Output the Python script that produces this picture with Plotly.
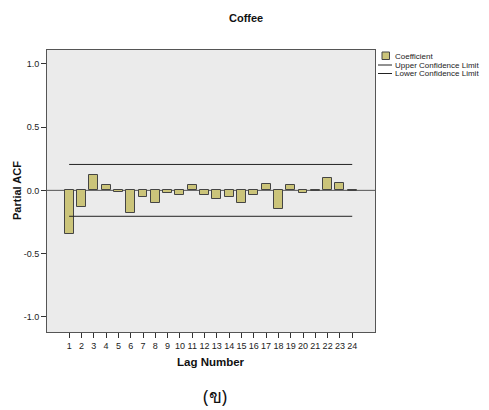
import plotly.graph_objects as go

lags = list(range(1, 25))
pacf = [-0.347, -0.129, 0.123, 0.039, -0.013, -0.180, -0.052, -0.100,
        -0.018, -0.037, 0.039, -0.040, -0.071, -0.055, -0.102, -0.040,
        0.052, -0.147, 0.042, -0.024, -0.005, 0.097, 0.055, -0.008]
upper = [0.205] * 24
lower = [-0.205] * 24
ytick_vals = [-1.0, -0.5, 0.0, 0.5, 1.0]
ytick_text = ["-1.0", "-0.5", "0.0", "0.5", "1.0"]

# page is offset by the default 8px body margin
OFF = 8
PW, PH = 489, 410
W, H = PW - OFF, PH - OFF
PL, PR, PT, PB = 47, 375, 50, 332  # plot area in page pixels
L, R, T, B = PL - OFF, PW - PR, PT - OFF, PH - PB
pw = PR - PL
ph = PB - PT

def px(x):
    return (x - PL) / pw

def py(y):
    return 1 - (y - PT) / ph

bar_color = "#cbc47a"
edge = "#444444"
font = "Liberation Sans, Arial, sans-serif"

fig = go.Figure()
fig.add_trace(go.Bar(x=lags, y=pacf, width=0.72, name="Coefficient",
                     marker=dict(color=bar_color, line=dict(color=edge, width=1))))
fig.add_trace(go.Scatter(x=lags, y=upper, mode="lines", name="Upper Confidence Limit",
                         line=dict(color="#222222", width=1)))
fig.add_trace(go.Scatter(x=lags, y=lower, mode="lines", name="Lower Confidence Limit",
                         line=dict(color="#222222", width=1)))

shapes = [
    dict(type="line", xref="paper", yref="y", x0=0, x1=1, y0=0, y1=0,
         line=dict(color="#555555", width=1), layer="below"),
    dict(type="rect", xref="paper", yref="paper", x0=px(382), x1=px(389.5), y0=py(59.5), y1=py(52),
         fillcolor=bar_color, line=dict(color=edge, width=1)),
    dict(type="line", xref="paper", yref="paper", x0=px(378), x1=px(392), y0=py(65), y1=py(65),
         line=dict(color="#222222", width=1)),
    dict(type="line", xref="paper", yref="paper", x0=px(378), x1=px(392), y0=py(73.5), y1=py(73.5),
         line=dict(color="#222222", width=1)),
]

lf = dict(size=8, color="#222", family=font)
annotations = [
    dict(text="Coefficient", xref="paper", yref="paper", x=px(393), y=py(56),
         xanchor="left", yanchor="middle", showarrow=False, font=lf),
    dict(text="Upper Confidence Limit", xref="paper", yref="paper", x=px(393), y=py(65),
         xanchor="left", yanchor="middle", showarrow=False, font=lf),
    dict(text="Lower Confidence Limit", xref="paper", yref="paper", x=px(393), y=py(73.5),
         xanchor="left", yanchor="middle", showarrow=False, font=lf),
    dict(text="<b>Partial ACF</b>", xref="paper", yref="paper", x=px(17), y=0.5, textangle=-90,
         xanchor="center", yanchor="middle", showarrow=False, font=dict(size=11, color="#111", family=font)),
    dict(text="<b>Lag Number</b>", xref="paper", yref="paper", x=px(211), y=py(362),
         xanchor="center", yanchor="middle", showarrow=False, font=dict(size=11.5, color="#111", family=font)),
    dict(text="(ข)", xref="paper", yref="paper", x=px(215), y=py(396),
         xanchor="center", yanchor="middle", showarrow=False, font=dict(size=19, color="#111")),
    dict(text="<b>Coffee</b>", xref="paper", yref="paper", x=px(246), y=py(18),
         xanchor="center", yanchor="middle", showarrow=False, font=dict(size=11, color="#111", family=font)),
]

fig.update_layout(
    width=W, height=H,
    margin=dict(l=L, r=R, t=T, b=B, autoexpand=False),
    paper_bgcolor="white",
    plot_bgcolor="#ebebeb",
    showlegend=False,
    shapes=shapes,
    annotations=annotations,
    bargap=0,
)
fig.update_xaxes(range=[-0.8, 25.85], tickvals=lags, ticks="outside", ticklen=5, tickcolor="#333",
                 tickfont=dict(size=9, color="#222", family=font), showgrid=False, zeroline=False,
                 showline=True, linecolor="#555", mirror=True)
fig.update_yaxes(range=[-1.12, 1.11], tickvals=ytick_vals, ticktext=ytick_text, ticks="outside",
                 ticklen=5, tickcolor="#333", tickfont=dict(size=9, color="#222", family=font),
                 showgrid=False, zeroline=False, showline=True, linecolor="#555", mirror=True)

fig.write_html("out.html")
